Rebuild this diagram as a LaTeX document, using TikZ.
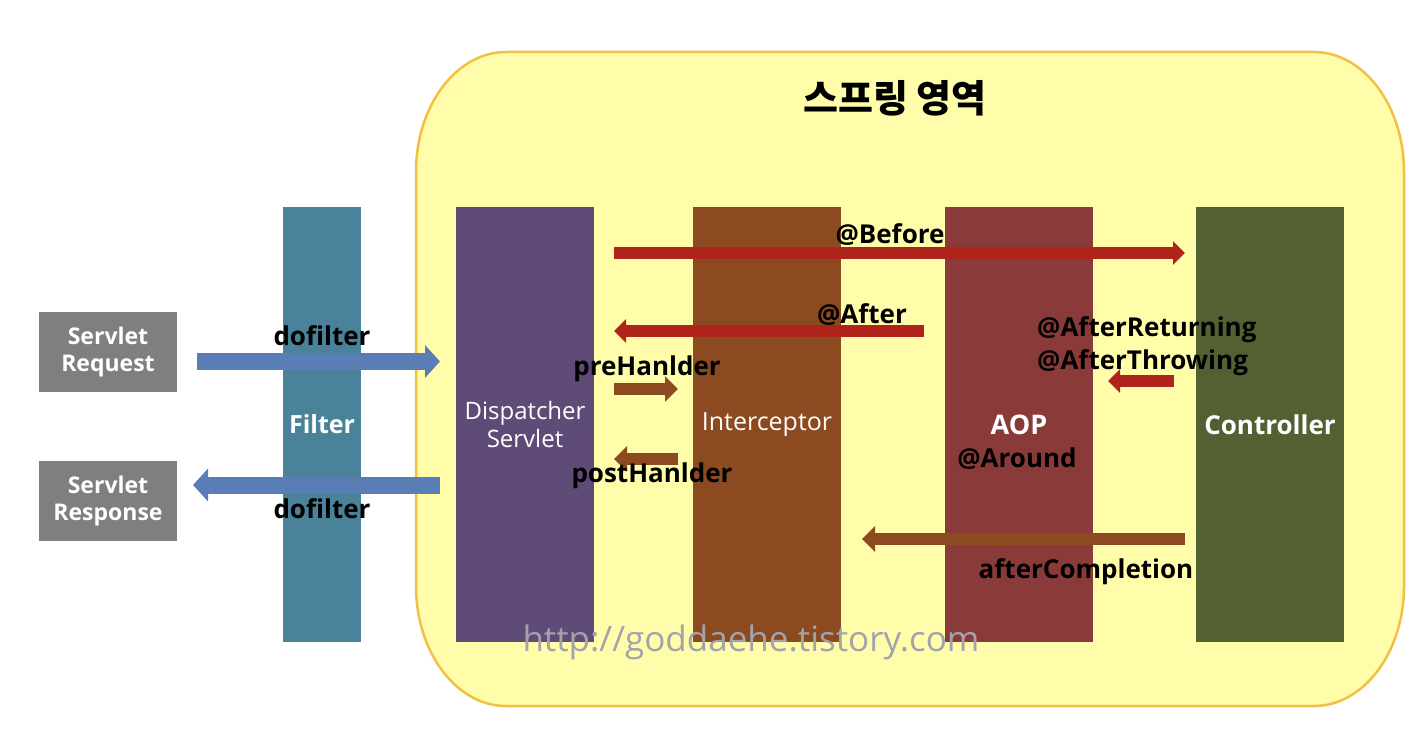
\documentclass[tikz,border=0pt]{standalone}
\usepackage{fontspec}
\setmainfont{Open Sans}
\newfontfamily\korfont{Noto Sans CJK KR}
\usetikzlibrary{arrows.meta}
\definecolor{springbg}{HTML}{FFFDA9}
\definecolor{springline}{HTML}{F4C043}
\definecolor{filtercol}{HTML}{4A8399}
\definecolor{dispcol}{HTML}{5F4B77}
\definecolor{intercol}{HTML}{8B4A1F}
\definecolor{aopcol}{HTML}{8B3A3A}
\definecolor{ctrlcol}{HTML}{536031}
\definecolor{servletgray}{HTML}{7F7F7F}
\definecolor{flowblue}{HTML}{5B7DB6}
\definecolor{flowred}{HTML}{B0231B}
\definecolor{flowbrown}{HTML}{8B4A1F}
\definecolor{markgray}{HTML}{A3A3AB}
\tikzset{
  stackbar/.style={minimum height=435pt, inner sep=0pt, text=white, align=center},
  servletbox/.style={fill=servletgray, minimum width=138pt, minimum height=80pt, inner sep=0pt,
    text=white, align=center, font=\bfseries\fontsize{23}{27}\selectfont},
  blueflow/.style={draw=flowblue, line width=17pt, -{Triangle[length=15pt,width=32pt]}},
  redflow/.style={draw=flowred, line width=12pt, -{Triangle[length=12pt,width=23pt]}},
  brownflow/.style={draw=flowbrown, line width=12pt, -{Triangle[length=13pt,width=25pt]}},
  call/.style={anchor=base, inner sep=0pt, font=\bfseries\fontsize{26}{33}\selectfont}
}
\begin{document}
\begin{tikzpicture}[x=1pt,y=-1pt]
  \useasboundingbox (0,0) rectangle (1426,738);
  \filldraw[fill=springbg, draw=springline, line width=2.5pt]
    (416,172) .. controls (416,105.8) and (456.3,52) .. (506,52) -- (1314,52)
    .. controls (1363.7,52) and (1404,105.8) .. (1404,172) -- (1404,586)
    .. controls (1404,652.2) and (1363.7,706) .. (1314,706) -- (506,706)
    .. controls (456.3,706) and (416,652.2) .. (416,586) -- cycle;
  \node[font=\korfont\bfseries\fontsize{38}{44}\selectfont] (title) at (895,98) {스프링 영역};

  \node[stackbar, fill=filtercol, minimum width=78pt, font=\bfseries\fontsize{25}{30}\selectfont] (filter) at (322,424.5) {Filter};
  \node[stackbar, fill=dispcol, minimum width=138pt, font=\fontsize{24}{28}\selectfont] (disp) at (525,424.5) {Dispatcher\\Servlet};
  \node[stackbar, fill=intercol, minimum width=148pt, font=\fontsize{25}{30}\selectfont] (inter) at (767,424.5) {Interceptor};
  \node[stackbar, fill=aopcol, minimum width=148pt, font=\bfseries\fontsize{27}{32}\selectfont] (aop) at (1019,424.5) {AOP};
  \node[stackbar, fill=ctrlcol, minimum width=148pt, font=\bfseries\fontsize{26}{32}\selectfont] (ctrl) at (1270,424.5) {Controller};

  \node[servletbox] (req) at (108,352) {Servlet\\Request};
  \node[servletbox] (resp) at (108,501) {Servlet\\Response};

  \coordinate (req-s) at (197,361.5);  \coordinate (req-e) at (440,361.5);
  \coordinate (resp-s) at (440,485);   \coordinate (resp-e) at (193,485);
  \coordinate (before-s) at (614,253); \coordinate (before-e) at (1185,253);
  \coordinate (after-s) at (924,331);  \coordinate (after-e) at (614,331);
  \coordinate (pre-s) at (614,389);    \coordinate (pre-e) at (678,389);
  \coordinate (post-s) at (678,459);   \coordinate (post-e) at (614,459);
  \coordinate (ret-s) at (1174,381);   \coordinate (ret-e) at (1108,381);
  \coordinate (done-s) at (1185,539);  \coordinate (done-e) at (862,539);

  \draw[blueflow] (req-s) -- (req-e);
  \draw[blueflow] (resp-s) -- (resp-e);
  \draw[redflow] (before-s) -- (before-e);
  \draw[redflow] (after-s) -- (after-e);
  \draw[redflow] (ret-s) -- (ret-e);
  \draw[brownflow] (pre-s) -- (pre-e);
  \draw[brownflow] (post-s) -- (post-e);
  \draw[brownflow] (done-s) -- (done-e);

  \node[call] (dofilter-in) at (322,345) {dofilter};
  \node[call] (dofilter-out) at (322,518) {dofilter};
  \node[call] (before) at (890,243) {@Before};
  \node[call] (after) at (862,323) {@After};
  \node[call] (prehandler) at (647,375) {preHanlder};
  \node[call] (posthandler) at (652,482) {postHanlder};
  \node[call, anchor=base west, align=left] (returning) at (1037,369) {@AfterReturning\\@AfterThrowing};
  \node[call] (around) at (1017,467) {@Around};
  \node[call] (completion) at (1086,578) {afterCompletion};
  % \node[call] (aoplabel) at (1017,437) {AOP};

  \node[text=markgray, font=\fontsize{35}{40}\selectfont] (mark) at (751,642) {http://goddaehe.tistory.com};
\end{tikzpicture}
\end{document}
